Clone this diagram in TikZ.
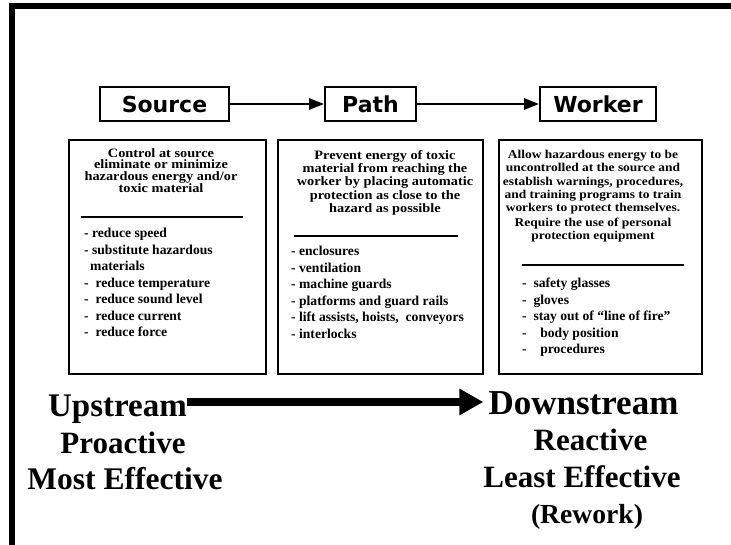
\documentclass[tikz,border=0pt]{standalone}
\usepackage{fontspec}
\usepackage{tikz}
\usetikzlibrary{arrows.meta,positioning}
\newfontfamily\bodyfont{Liberation Serif}
\newfontfamily\widefont[FakeStretch=1.12]{Liberation Serif}
\newfontfamily\headfont{DejaVu Sans}

\tikzset{
  stage/.style={draw, line width=1.8pt, minimum height=34pt,
    font=\headfont\bfseries\fontsize{22}{24}\selectfont},
  panel/.style={draw, line width=2pt, minimum height=234pt},
  flow/.style={line width=2.5pt, -{Triangle[length=15pt,width=11pt]}},
  heading/.style 2 args={align=center, anchor=north,
    font={\widefont\bfseries\fontsize{#1}{#2}\selectfont\lineskiplimit -20pt}},
  items/.style={align=left, anchor=north west,
    font=\bodyfont\bfseries\fontsize{13.6}{16.5}\selectfont},
  big/.style={anchor=base, font=\bodyfont\bfseries\fontsize{#1}{#1}\selectfont},
  rule/.style={line width=1.8pt}
}

\begin{document}
\begin{tikzpicture}[x=1pt,y=1pt]
\tikzstyle{every node}+=[inner sep=0pt]
\fill [white] (0,0) rectangle (731,-545);
\useasboundingbox (0,0) rectangle (731,-545);
% frame (only top and left edges)
\draw [line width=6pt] (731,-6) -- (12,-6) -- (12,-545);

% stages
\node [stage, minimum width=129pt] (src) at (164.5,-104) {Source};
\node [stage, minimum width=91pt] (pth) at (370.5,-104) {Path};
\node [stage, minimum width=116pt] (wkr) at (598,-104) {Worker};
\draw [flow] (src) -- (pth);
\draw [flow] (pth) -- (wkr);

% panels
\node [panel, minimum width=197pt] (srcbox) at (167.5,-257) {};
\node [panel, minimum width=205pt] (pthbox) at (380.5,-257) {};
\node [panel, minimum width=203pt] (wkrbox) at (600.5,-257) {};

% source panel
\node [heading={12.8}{11.8}] (srctxt) at (161,-148) {Control at source\\eliminate or minimize\\hazardous energy and/or\\toxic material};
\draw [rule] (81,-217) -- (243,-217);
\node [items] (srclist) at (84,-228) {- reduce speed\\- substitute hazardous\\\hspace*{6pt}materials\\-\ \ reduce temperature\\-\ \ reduce sound level\\-\ \ reduce current\\-\ \ reduce force};

% path panel
\node [heading={12.8}{13.3}] (pthtxt) at (385,-150) {Prevent energy of toxic\\material from reaching the\\worker by placing automatic\\protection as close to the\\hazard as possible};
\draw [rule] (294,-236) -- (458,-236);
\node [items] (pthlist) at (291,-246) {- enclosures\\- ventilation\\- machine guards\\- platforms and guard rails\\- lift assists, hoists,\ \ conveyors\\- interlocks};

% worker panel
\node [heading={12}{13.3}] (wkrtxt) at (593,-150) {Allow hazardous energy to be\\uncontrolled at the source and\\establish warnings, procedures,\\and training programs to train\\workers to protect themselves.\\[1.5pt]Require the use of personal\\protection equipment};
\draw [rule] (522,-265) -- (684,-265);
\node [items] (wkrlist) at (522,-278) {-\ \ safety glasses\\-\ \ gloves\\-\ \ stay out of “line of fire”\\-\ \ \ \ body position\\-\ \ \ \ procedures};

% upstream / downstream
\coordinate (lvl) at (0,-402);
\node [big=33] (up) at (117.5,-416) {Upstream};
\node [big=31] (pro) at (123,-453) {Proactive};
\node [big=31.5] (most) at (125,-489) {Most Effective};
\node [big=35] (down) at (583.5,-414) {Downstream};
\node [big=31] (rea) at (590.5,-450) {Reactive};
\node [big=31] (least) at (582,-487) {Least Effective};
\node [big=27.6] (rew) at (587,-523) {(Rework)};
\draw [line width=8pt, -{Triangle[length=24pt,width=25pt]}, shorten >=5pt] (up.east |- lvl) -- (down.west |- lvl);
\end{tikzpicture}
\end{document}
